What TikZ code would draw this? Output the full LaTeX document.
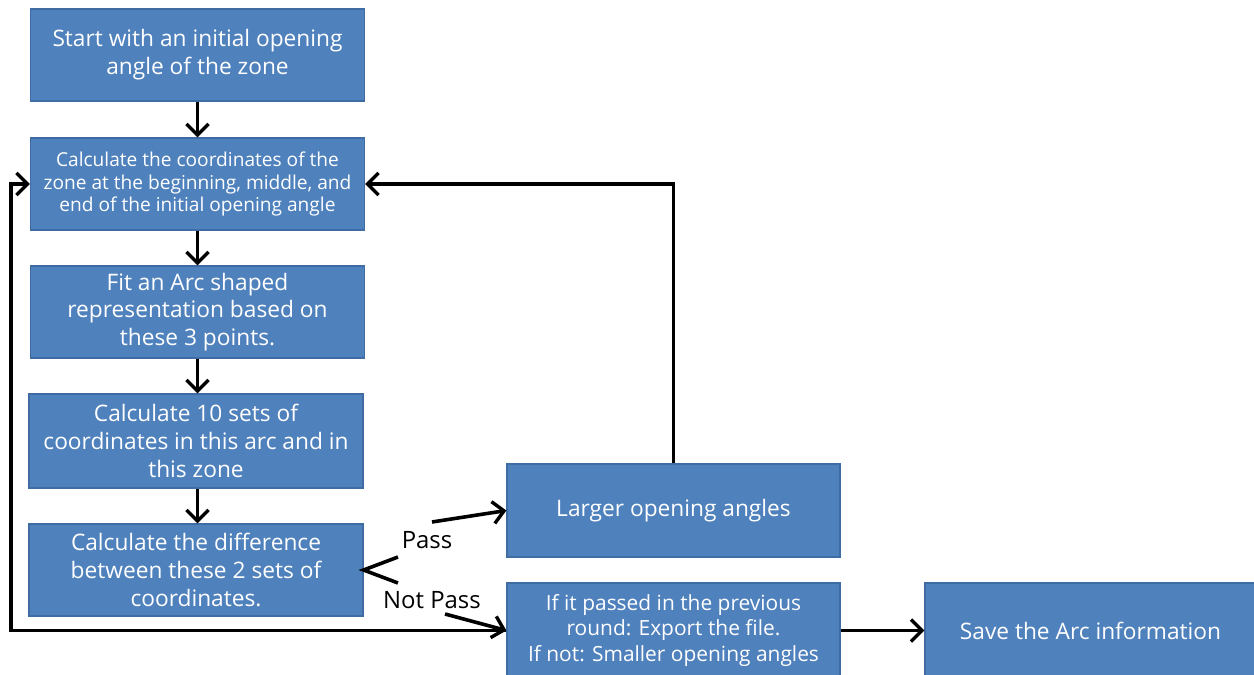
\documentclass[tikz,border=0pt]{standalone}
\usepackage{fontspec}
\setmainfont{Open Sans}
\usetikzlibrary{arrows.meta}
\definecolor{boxfill}{HTML}{4F81BD}
\definecolor{boxline}{HTML}{3F6DA3}
\tikzset{
  box/.style={draw=boxline, line width=1.2bp, fill=boxfill, text=white, align=center,
    minimum width=334bp, minimum height=92bp, inner sep=0pt, font=\fontsize{22.8}{28}\selectfont},
  smallbox/.style={box, font=\fontsize{19.2}{23}\selectfont},
  arr/.style={line width=3.6bp, -{Straight Barb[length=11bp,width=22bp,line width=3.4bp]}},
  conn/.style={line width=3.6bp},
  lab/.style={font=\fontsize{24}{28}\selectfont, text=black, inner sep=0pt}
}
\begin{document}
\begin{tikzpicture}[x=1bp,y=-1bp]
\useasboundingbox (0,0) rectangle (1254,675);
\node[box] (b1) at (197.5,55) {Start with an initial opening\\angle of the zone};
\node[smallbox] (b2) at (197.5,184) {Calculate the coordinates of the\\zone at the beginning, middle, and\\end of the initial opening angle};
\node[box] (b3) at (197.5,312) {Fit an Arc shaped\\representation based on\\these 3 points.};
\node[box, minimum height=94bp] (b4) at (196,441) {Calculate 10 sets of\\coordinates in this arc and in\\this zone};
\node[box] (b5) at (196,570) {Calculate the difference\\between these 2 sets of\\coordinates.};
\node[box, minimum height=93bp, minimum width=333bp] (b6) at (673.5,510.5) {Larger opening angles};
\node[box, minimum height=95bp, minimum width=333bp, font=\fontsize{21}{26}\selectfont] (b7) at (673.5,630.5) {If it passed in the previous\\round: Export the file.\\If not: Smaller opening angles};
\node[box, minimum height=95bp, minimum width=331bp] (b8) at (1090.5,630.5) {Save the Arc information};
\node[lab] (pass) at (427,540) {Pass};
\node[lab] (npass) at (432,600) {Not Pass};
\coordinate (dA) at (398,557);
\coordinate (dB) at (398,583);
\coordinate (pS) at (432,522);
\coordinate (nS) at (445,614);
\draw[arr] (b1) -- (b2);
\draw[arr] (b2) -- (b3);
\draw[arr] (b3.south -| b2.south) -- (b4.north -| b2.south);
\draw[arr] (b4.south -| b2.south) -- (b5.north -| b2.south);
\draw[arr] (b6.north) |- (b2.east);
\draw[arr] (b7.west) -| ([xshift=-19bp]b2.west) -- (b2.west);
\draw[conn, line join=miter] (dA) -- (b5.east) -- (dB);
\draw[arr] (pS) -- (b6.west);
\draw[arr] (nS) -- (b7.west);
\draw[arr] (b7) -- (b8);
\end{tikzpicture}
\end{document}
